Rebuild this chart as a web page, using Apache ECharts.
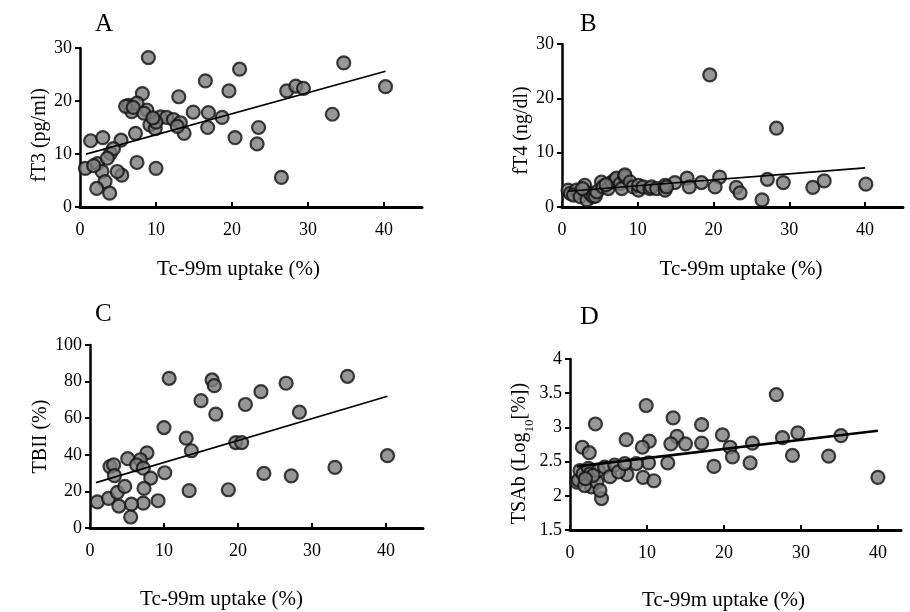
<!DOCTYPE html>
<html>
<head>
<meta charset="utf-8">
<script src="https://cdn.jsdelivr.net/npm/echarts@6/dist/echarts.min.js"></script>
<style>html,body{margin:0;padding:0;background:#fff}#c{width:910px;height:612px}</style>
</head>
<body>
<div id="c"></div>
<script>
// ---- data ----
const xTickLabels = [0, 10, 20, 30, 40];

const aX = [9.0,34.7,21.0,16.5,19.6,13.0,8.2,27.2,28.4,29.4,40.2,33.2,14.9,16.9,18.7,16.8,20.4,23.5,23.3,26.5,13.7,10.0,7.5,7.3,5.4,5.5,4.9,1.4,3.0,4.0,4.4,0.7,2.3,2.9,3.3,2.2,3.9,6.4,6.8,8.8,9.2,9.9,10.6,11.4,12.3,13.2,7.5,8.4,6.0,7.0,10.0,3.6,1.8,9.6,12.8];
const aY = [28.2,27.2,26.0,23.8,21.9,20.8,21.4,21.9,22.8,22.4,22.7,17.5,17.9,17.8,16.9,15.0,13.1,15.0,11.9,5.6,13.9,7.3,8.4,13.9,12.6,6.0,6.7,12.5,13.1,10.1,11.0,7.3,8.2,6.7,4.8,3.5,2.6,19.2,18.0,18.3,15.5,14.8,17.0,16.9,16.5,15.9,19.6,17.7,19.0,18.8,16.0,9.2,7.8,16.8,15.2];
const aFit = [[0.8, 9.98], [40.2, 25.6]];

const bX = [19.5,28.3,26.4,27.1,29.2,33.1,34.6,40.1,23.0,23.5,20.8,20.2,18.4,16.5,16.8,14.9,0.8,1.1,1.9,1.5,2.4,3.0,3.3,3.7,4.1,4.4,4.6,5.2,5.4,6.1,6.6,7.0,7.2,7.7,7.9,8.3,8.3,9.0,9.4,10.1,10.1,10.7,11.6,11.8,12.5,13.6,13.6,13.8,2.7,5.8];
const bY = [24.3,14.5,1.3,5.1,4.5,3.6,4.8,4.2,3.6,2.6,5.5,3.7,4.5,5.3,3.7,4.5,3.1,2.5,3.1,2.2,1.9,4.0,1.3,2.5,1.9,2.0,2.8,4.6,3.7,3.4,4.6,5.0,5.3,4.3,3.4,5.6,5.9,4.6,3.7,3.1,4.0,3.7,3.4,3.7,3.4,3.1,4.0,3.7,3.4,4.1];
const bFit = [[0.8, 2.9], [40.0, 7.2]];

const cX = [10.7,16.5,16.8,15.0,21.0,23.1,26.5,34.8,28.3,17.0,10.0,13.0,13.7,19.7,20.5,33.1,23.5,27.2,18.7,13.4,10.1,9.2,7.7,6.8,5.1,6.3,7.2,8.2,7.3,7.2,5.6,5.5,3.9,2.7,3.2,3.3,1.0,2.5,3.7,4.7,40.2];
const cY = [81.8,80.9,77.8,69.6,67.5,74.5,79.1,82.9,63.3,62.2,54.9,49.1,42.2,46.7,46.7,33.1,29.8,28.5,20.9,20.4,30.2,14.9,41.1,37.3,37.9,34.5,32.7,27.3,21.6,13.6,13.0,6.0,12.0,33.6,34.5,28.6,14.3,16.2,19.5,22.7,39.5];
const cFit = [[0.8, 24.8], [40.2, 72.0]];

const dX = [26.8,9.9,13.4,3.3,17.1,19.8,29.6,7.3,10.3,9.4,13.9,13.1,15.0,17.1,20.8,21.1,23.7,27.6,35.2,28.9,33.6,23.4,18.7,12.7,10.2,8.6,9.5,10.9,7.4,1.6,2.5,4.1,0.9,1.1,1.3,1.7,2.4,2.6,2.8,1.9,3.5,3.7,3.9,4.5,5.2,5.8,6.3,7.1,40.0,3.0,2.0];
const dY = [3.48,3.32,3.14,3.05,3.04,2.89,2.92,2.82,2.80,2.71,2.87,2.76,2.76,2.77,2.71,2.57,2.77,2.85,2.88,2.59,2.58,2.48,2.43,2.48,2.48,2.47,2.27,2.22,2.31,2.71,2.63,1.96,2.20,2.23,2.37,2.32,2.40,2.32,2.13,2.15,2.20,2.37,2.08,2.42,2.28,2.45,2.35,2.47,2.27,2.30,2.25];
const dFit = [[0.9, 2.43], [40.0, 2.95]];

// ---- chart ----
const FONT = 'Liberation Serif';
const zip = (xs, ys) => xs.map((x, i) => [x, ys[i]]);

function xAxis(gi, max, gap, pad) {
  return {
    type: 'value', gridIndex: gi, min: 0, max: max, interval: 10,
    axisLine: { show: true, onZero: false, lineStyle: { color: '#000', width: 3 } },
    axisTick: { show: true, inside: true, length: 5, customValues: xTickLabels, lineStyle: { color: '#000', width: 2 } },
    axisLabel: { customValues: xTickLabels, fontFamily: FONT, fontSize: 18, color: '#000', margin: 14 },
    splitLine: { show: false },
    name: 'Tc-99m uptake (%)', nameLocation: 'middle', nameGap: gap,
    nameTextStyle: { fontFamily: FONT, fontSize: 21, color: '#000', padding: pad }
  };
}
function yAxis(gi, min, max, interval, name, gap, pad, rich) {
  const ns = { fontFamily: FONT, fontSize: 20, color: '#000', padding: pad };
  if (rich) ns.rich = rich;
  return {
    type: 'value', gridIndex: gi, min: min, max: max, interval: interval,
    axisLine: { show: true, onZero: false, lineStyle: { color: '#000', width: 2.5 } },
    axisTick: { show: true, inside: false, length: 5, lineStyle: { color: '#000', width: 2 } },
    axisLabel: { fontFamily: FONT, fontSize: 18, color: '#000', margin: 8 },
    splitLine: { show: false },
    name: name, nameLocation: 'middle', nameGap: gap, nameRotate: 90,
    nameTextStyle: ns
  };
}
const dot = { color: '#7d7d7d', borderColor: '#111', borderWidth: 2.2 };
function scatter(i, data) {
  return { type: 'scatter', xAxisIndex: i, yAxisIndex: i, data: data, symbolSize: 13, itemStyle: dot, z: 3 };
}
function fit(i, data, w) {
  return { type: 'line', xAxisIndex: i, yAxisIndex: i, data: data, symbol: 'none', lineStyle: { color: '#000', width: w }, z: 4 };
}

const chart = echarts.init(document.getElementById('c'), null, { renderer: 'canvas' });
chart.setOption({
  backgroundColor: '#fff',
  animation: false,
  grid: [
    { left: 80, top: 48, width: 342, height: 159 },
    { left: 562, top: 44, width: 341, height: 163 },
    { left: 90, top: 345, width: 333, height: 183 },
    { left: 570, top: 359, width: 331, height: 171 }
  ],
  xAxis: [
    xAxis(0, 45, 52, [0, 25, 0, 0]),
    xAxis(1, 45, 52, [0, 0, 0, 17]),
    xAxis(2, 45, 61, [0, 70, 0, 0]),
    xAxis(3, 43, 60, [0, 24, 0, 0])
  ],
  yAxis: [
    yAxis(0, 0, 30, 10, 'fT3 (pg/ml)', 25, [0, 15, 0, 0]),
    yAxis(1, 0, 30, 10, 'fT4 (ng/dl)', 23, [0, 10, 0, 0]),
    yAxis(2, 0, 100, 20, 'TBII (%)', 39, [0, 0, 0, 0]),
    yAxis(3, 1.5, 4, 0.5, 'TSAb (Log{sub|10}[%])', 32, [0, 18, 0, 0],
      { sub: { fontFamily: FONT, fontSize: 13, color: '#000', verticalAlign: 'bottom', padding: [0, 0, -6, 0] } })
  ],
  graphic: [
    { type: 'text', left: 95, top: 12, style: { text: 'A', font: '25px "Liberation Serif"', fill: '#000' } },
    { type: 'text', left: 580, top: 12, style: { text: 'B', font: '25px "Liberation Serif"', fill: '#000' } },
    { type: 'text', left: 95, top: 302, style: { text: 'C', font: '25px "Liberation Serif"', fill: '#000' } },
    { type: 'text', left: 580, top: 304, style: { text: 'D', font: '26px "Liberation Serif"', fill: '#000' } }
  ],
  series: [
    scatter(0, zip(aX, aY)), fit(0, aFit, 1.6),
    scatter(1, zip(bX, bY)), fit(1, bFit, 1.6),
    scatter(2, zip(cX, cY)), fit(2, cFit, 1.6),
    scatter(3, zip(dX, dY)), fit(3, dFit, 2.6)
  ]
});
</script>
</body>
</html>
